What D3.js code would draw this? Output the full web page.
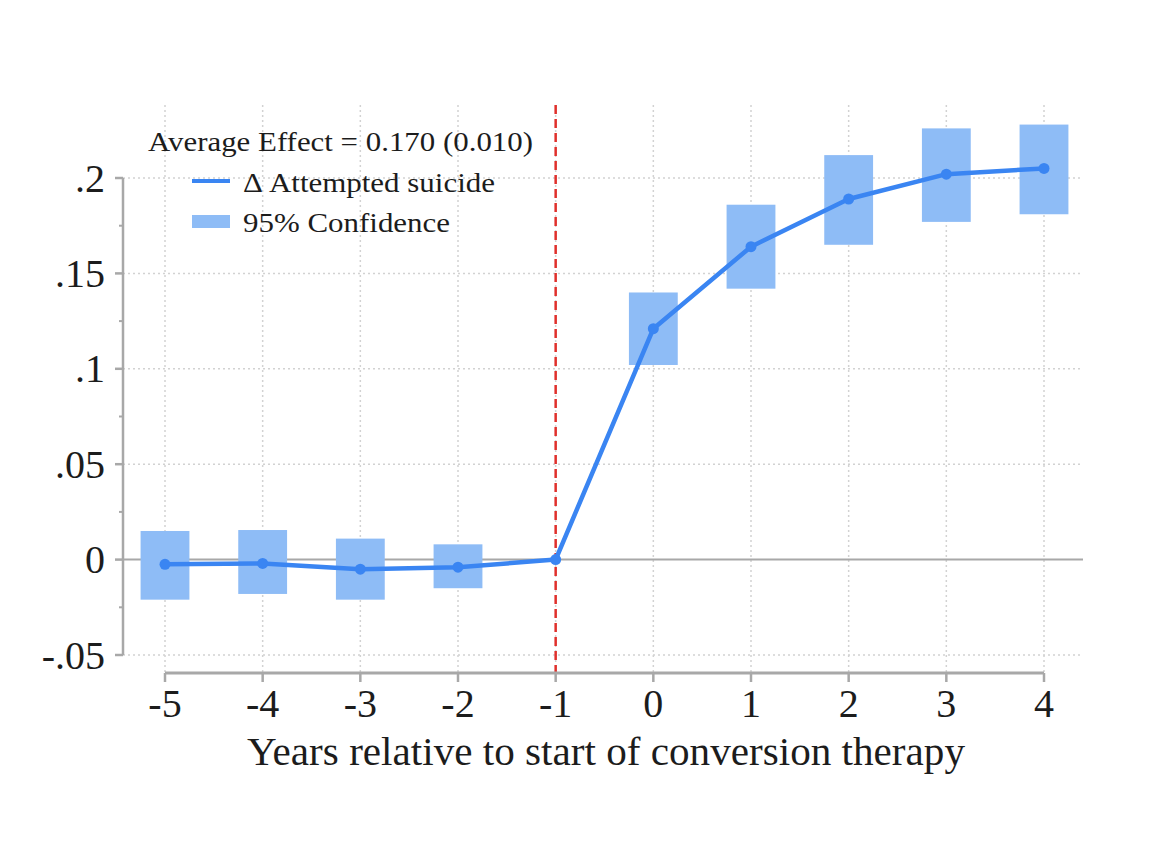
<!DOCTYPE html>
<html>
<head>
<meta charset="utf-8">
<script src="https://cdn.jsdelivr.net/npm/d3@7"></script>
<style>
  body { margin: 0; background: #fff; }
  svg { display: block; font-family: "Liberation Serif", "DejaVu Serif", serif; }
</style>
</head>
<body>
<svg id="chart" width="1150" height="847"></svg>
<script>
// years relative to start of therapy
var years = [-5, -4, -3, -2, -1, 0, 1, 2, 3, 4]
// point estimates
var effect = [-0.0025, -0.002, -0.005, -0.004, 0, 0.121, 0.164, 0.189, 0.202, 0.205]
// 95% confidence bounds (null = reference year, no band)
var ciLow = [-0.021, -0.018, -0.021, -0.015, null, 0.102, 0.142, 0.165, 0.177, 0.181]
var ciHigh = [0.015, 0.0155, 0.011, 0.008, null, 0.140, 0.186, 0.212, 0.226, 0.228]
var yTicks = [-0.05, 0, 0.05, 0.1, 0.15, 0.2]
var yTickLabels = ["-.05", "0", ".05", ".1", ".15", ".2"]
var yMinorTicks = [-0.025, 0.025, 0.075, 0.125, 0.175]

var lineColor = "#3a85f2"
var bandColor = "#8ebcf6"
var axisColor = "#a8a8a8"
var gridColor = "#d2d2d2"
var textColor = "#1c1c1c"

var svg = d3.select("#chart")

var x = d3.scaleLinear().domain([-5, 4]).range([165, 1044])
var y = d3.scaleLinear().domain([-0.05, 0.2]).range([655, 178])

var plot = {left: 123, right: 1083, top: 105, axisY: 673}

var data = years.map(function(yr, i){
    return {year: yr, est: effect[i], lo: ciLow[i], hi: ciHigh[i]}
})

// grid
svg.append("g")
    .selectAll("line")
    .data(yTicks.filter(function(d){ return d !== 0 }))
    .enter()
    .append("line")
        .attr("x1", plot.left)
        .attr("x2", plot.right)
        .attr("y1", function(d){ return y(d) })
        .attr("y2", function(d){ return y(d) })
        .attr("stroke", gridColor)
        .attr("stroke-width", 1.5)
        .attr("stroke-dasharray", "2,3")

svg.append("g")
    .selectAll("line")
    .data(years)
    .enter()
    .append("line")
        .attr("x1", function(d){ return x(d) })
        .attr("x2", function(d){ return x(d) })
        .attr("y1", plot.top)
        .attr("y2", plot.axisY)
        .attr("stroke", gridColor)
        .attr("stroke-width", 1.5)
        .attr("stroke-dasharray", "2,3")

// zero line
svg.append("line")
    .attr("x1", plot.left)
    .attr("x2", plot.right)
    .attr("y1", y(0))
    .attr("y2", y(0))
    .attr("stroke", axisColor)
    .attr("stroke-width", 2)

// confidence bands
var halfW = 0.25
svg.append("g")
    .selectAll("rect")
    .data(data.filter(function(d){ return d.lo !== null }))
    .enter()
    .append("rect")
        .attr("x", function(d){ return x(d.year - halfW) })
        .attr("width", function(d){ return x(d.year + halfW) - x(d.year - halfW) })
        .attr("y", function(d){ return y(d.hi) })
        .attr("height", function(d){ return y(d.lo) - y(d.hi) })
        .attr("fill", bandColor)

// reference year line
svg.append("line")
    .attr("x1", x(-1))
    .attr("x2", x(-1))
    .attr("y1", plot.top)
    .attr("y2", plot.axisY)
    .attr("stroke", "#e0302c")
    .attr("stroke-width", 2.5)
    .attr("stroke-dasharray", "9,5")

// effect line
var line = d3.line()
    .x(function(d){ return x(d.year) })
    .y(function(d){ return y(d.est) })

svg.append("path")
    .datum(data)
    .attr("d", line)
    .attr("fill", "none")
    .attr("stroke", lineColor)
    .attr("stroke-width", 4.5)
    .attr("stroke-linejoin", "round")

svg.append("g")
    .selectAll("circle")
    .data(data)
    .enter()
    .append("circle")
        .attr("cx", function(d){ return x(d.year) })
        .attr("cy", function(d){ return y(d.est) })
        .attr("r", 5.5)
        .attr("fill", lineColor)

// y axis
var yAxis = svg.append("g").attr("transform", "translate(" + plot.left + ",0)")
yAxis.append("line")
    .attr("y1", y(0.2))
    .attr("y2", y(-0.05))
    .attr("stroke", axisColor)
    .attr("stroke-width", 2.5)
yAxis.selectAll(".major")
    .data(yTicks)
    .enter()
    .append("line")
        .attr("x1", -8)
        .attr("x2", 0)
        .attr("y1", function(d){ return y(d) })
        .attr("y2", function(d){ return y(d) })
        .attr("stroke", axisColor)
        .attr("stroke-width", 2.5)
yAxis.selectAll(".minor")
    .data(yMinorTicks)
    .enter()
    .append("line")
        .attr("x1", -4)
        .attr("x2", 0)
        .attr("y1", function(d){ return y(d) })
        .attr("y2", function(d){ return y(d) })
        .attr("stroke", axisColor)
        .attr("stroke-width", 2)
yAxis.selectAll("text")
    .data(yTicks)
    .enter()
    .append("text")
        .attr("x", -18)
        .attr("y", function(d){ return y(d) })
        .attr("dy", "0.34em")
        .attr("text-anchor", "end")
        .attr("font-size", 40)
        .attr("fill", textColor)
        .text(function(d, i){ return yTickLabels[i] })

// x axis
var xAxis = svg.append("g").attr("transform", "translate(0," + plot.axisY + ")")
xAxis.append("line")
    .attr("x1", x(-5))
    .attr("x2", x(4))
    .attr("stroke", axisColor)
    .attr("stroke-width", 3)
xAxis.selectAll(".tick")
    .data(years)
    .enter()
    .append("line")
        .attr("x1", function(d){ return x(d) })
        .attr("x2", function(d){ return x(d) })
        .attr("y1", 0)
        .attr("y2", 9)
        .attr("stroke", axisColor)
        .attr("stroke-width", 2.5)
xAxis.selectAll("text")
    .data(years)
    .enter()
    .append("text")
        .attr("x", function(d){ return x(d) })
        .attr("y", 44)
        .attr("text-anchor", "middle")
        .attr("font-size", 40)
        .attr("fill", textColor)
        .text(function(d){ return d })

svg.append("text")
    .attr("x", 247)
    .attr("y", 765)
    .attr("font-size", 39)
    .attr("textLength", 718)
    .attr("lengthAdjust", "spacingAndGlyphs")
    .attr("fill", textColor)
    .text("Years relative to start of conversion therapy")

// legend
var legend = svg.append("g")
legend.append("text")
    .attr("x", 148)
    .attr("y", 151)
    .attr("font-size", 28)
    .attr("textLength", 385)
    .attr("lengthAdjust", "spacingAndGlyphs")
    .attr("fill", textColor)
    .text("Average Effect = 0.170 (0.010)")
legend.append("line")
    .attr("x1", 192).attr("x2", 230)
    .attr("y1", 181).attr("y2", 181)
    .attr("stroke", lineColor)
    .attr("stroke-width", 4)
legend.append("text")
    .attr("x", 243)
    .attr("y", 192)
    .attr("font-size", 28)
    .attr("textLength", 252)
    .attr("lengthAdjust", "spacingAndGlyphs")
    .attr("fill", textColor)
    .text("Δ Attempted suicide")
legend.append("rect")
    .attr("x", 192).attr("y", 215)
    .attr("width", 38).attr("height", 13)
    .attr("fill", bandColor)
legend.append("text")
    .attr("x", 243)
    .attr("y", 232)
    .attr("font-size", 28)
    .attr("textLength", 207)
    .attr("lengthAdjust", "spacingAndGlyphs")
    .attr("fill", textColor)
    .text("95% Confidence")
</script>
</body>
</html>
